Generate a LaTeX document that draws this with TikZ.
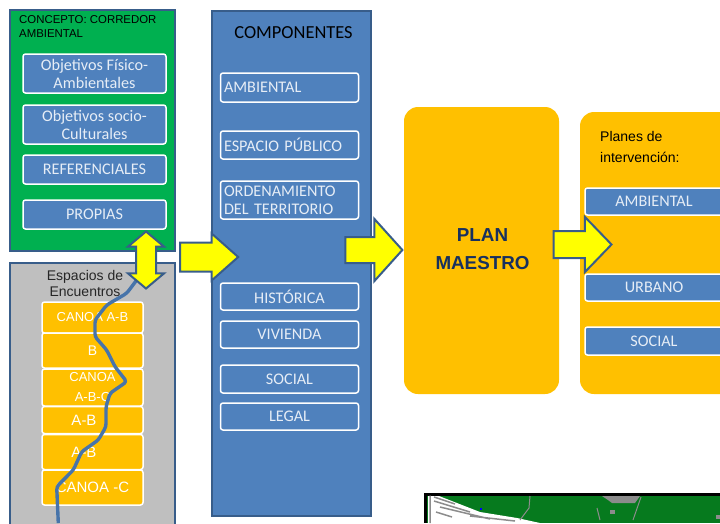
\documentclass[tikz,border=0pt]{standalone}
\usepackage{xcolor}
\usepackage{tikz}
\usepackage{fontspec}
\setmainfont{Carlito}
\newfontfamily\arialfont{Liberation Sans}
\usetikzlibrary{shapes.arrows}
\definecolor{panelblue}{HTML}{4F81BD}
\definecolor{edgeblue}{HTML}{385D8A}
\definecolor{panelgreen}{HTML}{00B050}
\definecolor{panelorange}{HTML}{FFC000}
\definecolor{panelgrey}{HTML}{BFBFBF}
\definecolor{arrowyellow}{HTML}{FFFF00}
\definecolor{mapgreen}{HTML}{067A1E}
\definecolor{mapgrey}{HTML}{8C8C8C}
\definecolor{boxtext}{HTML}{E6EDF6}
\definecolor{plantext}{HTML}{17305F}
\begin{document}
\begin{tikzpicture}[x=1pt,y=-1pt,
    panel/.style={draw=edgeblue,line width=1.5pt,inner sep=0pt},
    softpanel/.style={fill=panelorange,rounded corners=14pt,inner sep=0pt},
    itembox/.style={draw=white,line width=1.5pt,fill=panelblue,rounded corners=2.5pt,text=boxtext,inner sep=0pt,font=\fontsize{16.2}{18}\selectfont,align=center},
    canoabox/.style={draw=white,line width=1.5pt,fill=panelorange,rounded corners=2.5pt,text=white,inner sep=0pt,minimum width=101pt,align=center},
    flowarrow/.style={single arrow,draw=edgeblue,line width=2pt,fill=arrowyellow,inner xsep=0pt,shape border rotate=0}]
  \path[use as bounding box] (0,0) rectangle (720,523);
  \clip (0,0) rectangle (720,523);

  \node[panel,fill=panelgreen,minimum width=165pt,minimum height=241pt] (concepto) at (92.5,130.5) {};
  \node[text=black,font=\arialfont\fontsize{11.4}{14}\selectfont,align=left,anchor=north west,inner sep=0pt] (conceptotext) at (19,15) {CONCEPTO: CORREDOR\\AMBIENTAL};
  \begin{scope}[every node/.style={itembox,minimum width=143pt}]
    \node[minimum height=39pt] (objfisico) at (94.5,73.5) {Objetivos Físico-\\Ambientales};
    \node[minimum height=39pt] (objsocio) at (94.5,124.5) {Objetivos socio-\\Culturales};
    \node[minimum height=29pt] (referenciales) at (94.5,169.5) {REFERENCIALES};
    \node[minimum height=29pt] (propias) at (94.5,214.5) {PROPIAS};
  \end{scope}

  \node[panel,fill=panelgrey,minimum width=165pt,minimum height=280pt] (espacios) at (92.5,403) {};
  \node[text=black!85,font=\arialfont\fontsize{14}{16}\selectfont,align=center,inner sep=0pt] (espaciostext) at (85,283) {Espacios de\\Encuentros};
  \begin{scope}[every node/.style={canoabox}]
    \node[minimum height=31pt,font=\arialfont\fontsize{13}{15}\selectfont] (canoaab) at (92.5,317.5) {CANOA A-B};
    \node[minimum height=35pt,font=\arialfont\fontsize{14}{16}\selectfont] (canoab) at (92.5,350.5) {B};
    \node[minimum height=37pt,font=\arialfont\fontsize{13}{20}\selectfont] (canoaabc) at (92.5,387.5) {CANOA\\A-B-C};
    \node[minimum height=27pt,font=\arialfont\fontsize{15}{17}\selectfont] (canoaabdos) at (92.5,420) {A-B\hspace*{17pt}};
    \node[minimum height=35pt,font=\arialfont\fontsize{15}{17}\selectfont] (canoaabtres) at (92.5,452) {A-B\hspace*{17pt}};
    \node[minimum height=35pt,font=\arialfont\fontsize{15}{17}\selectfont] (canoac) at (92.5,487.5) {CANOA -C};
  \end{scope}
  \coordinate (riotop) at (136.7,280);
  \coordinate (riobottom) at (58.3,523);
  \draw[draw=panelblue!90!black,line width=3.4pt,line join=round,rounded corners=3pt] (riotop) -- (126.7,293.3) -- (106.7,305) -- (95,320) -- (95,336.7) -- (106.7,350) -- (115,366.7) -- (126.7,381.7) -- (110,393.3) -- (106,406.7) -- (106,426.7) -- (98.3,440) -- (81.7,451.7) -- (73.3,470) -- (56.7,486.7) -- (riobottom);
  \node[double arrow,draw=edgeblue,line width=2pt,fill=arrowyellow,inner xsep=9pt,inner ysep=0pt,shape border rotate=90,minimum height=57pt,minimum width=34pt,double arrow head extend=8pt,double arrow tip angle=100] (enlace) at (146,260) {};

  \node[panel,fill=panelblue,minimum width=159pt,minimum height=505pt] (componentes) at (291.5,263.5) {};
  \node[text=black,font=\fontsize{18.4}{20}\selectfont,inner sep=0pt] (componentestext) at (293.5,33) {COMPONENTES};
  \begin{scope}[every node/.style={itembox,minimum width=138pt}]
    \node[minimum height=29pt,align=left,text width=131pt] (ambiental) at (289.5,87.5) {AMBIENTAL};
    \node[minimum height=28pt,align=left,text width=131pt] (espaciopublico) at (289.5,145) {ESPACIO PÚBLICO};
    \node[minimum height=38pt,align=left,text width=131pt] (ordenamiento) at (289.5,200) {ORDENAMIENTO\\DEL TERRITORIO};
    \node[minimum height=27pt] (historica) at (289.5,296.5) {HISTÓRICA};
    \node[minimum height=27pt] (vivienda) at (289.5,334.5) {VIVIENDA};
    \node[minimum height=28pt] (social) at (289.5,379) {SOCIAL};
    \node[minimum height=27pt] (legal) at (289.5,416.5) {LEGAL};
  \end{scope}

  \node[flowarrow,inner ysep=13.5pt,minimum height=58pt,minimum width=46pt,single arrow head extend=9pt,single arrow tip angle=83] (flechauno) at (201,257) {};
  \node[flowarrow,inner ysep=12pt,minimum height=57pt,minimum width=60pt,single arrow head extend=18pt,single arrow tip angle=96] (flechados) at (368,250) {};

  \node[softpanel,minimum width=155pt,minimum height=287pt] (planmaestro) at (481.5,250.5) {};
  \node[text=plantext,font=\arialfont\bfseries\fontsize{18.8}{28}\selectfont,align=center,inner sep=0pt] (planmaestrotext) at (482.5,249) {PLAN\\MAESTRO};
  \node[softpanel,minimum width=170pt,minimum height=282pt] (planes) at (665,253) {};
  \node[text=black,font=\arialfont\fontsize{14}{21}\selectfont,align=left,anchor=north west,inner sep=0pt] (planestext) at (600,131) {Planes de\\intervención:};
  \begin{scope}[every node/.style={itembox,minimum width=138pt}]
    \node[minimum height=27pt] (planambiental) at (654,201.5) {AMBIENTAL};
    \node[minimum height=27pt] (planurbano) at (654,287.5) {URBANO};
    \node[minimum height=28pt] (plansocial) at (654,341) {SOCIAL};
  \end{scope}
  \node[flowarrow,inner ysep=12.5pt,minimum height=58pt,minimum width=54pt,single arrow head extend=14pt,single arrow tip angle=92] (flechatres) at (576,244.5) {};

  \fill[black] (424,493) rectangle (720,523);
  \fill[mapgreen] (426.5,495.5) rectangle (720,523);
  \fill[white] (428,496) -- (439,496) -- (480,512) -- (517,518) -- (540,523) -- (428,523) -- cycle;
  \draw[mapgrey,line width=1.5pt] (430,495.5) -- (430,523) (434,497) -- (455,504) (434,501) -- (470,512) (440,507) -- (490,519) (436,512) -- (452,517) (470,516) -- (515,521);
  \fill[blue] (479.5,507.5) rectangle (481.5,510);
  \draw[mapgrey,line width=1pt] (530,496) -- (529,508) -- (520,520) (597,508) -- (600,520) (641,497) -- (633,520);
  \fill[mapgrey] (602,496) -- (640,496) -- (635,503) -- (612,503) -- (608,500) -- cycle;
  \fill[mapgrey] (610,510) rectangle (615,514);
  \fill[mapgrey] (716,515) rectangle (720,519);
\end{tikzpicture}
\end{document}
